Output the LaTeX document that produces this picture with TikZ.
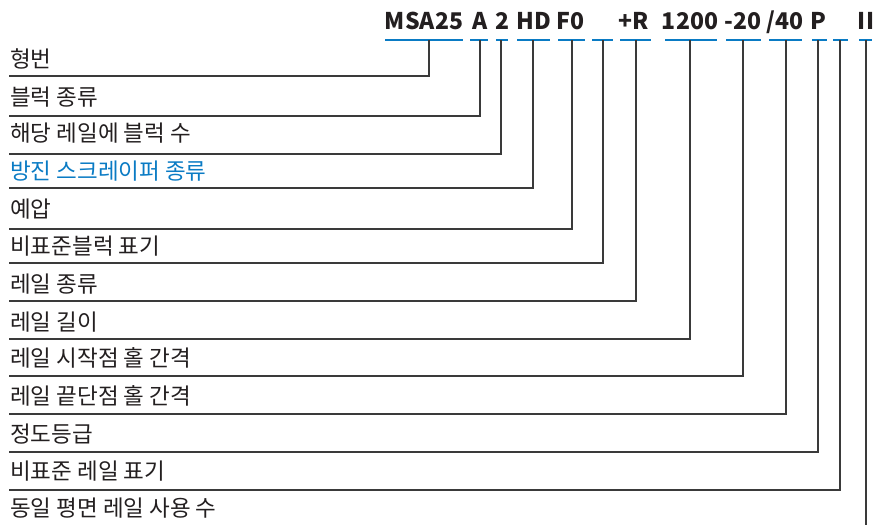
\documentclass[tikz,border=0pt]{standalone}
\usepackage{fontspec}
\setmainfont{Noto Sans CJK KR}
\definecolor{txt}{HTML}{231F20}
\definecolor{ln}{HTML}{3A3A3A}
\definecolor{blu}{HTML}{0A7BC4}
\begin{document}
\begin{tikzpicture}[x=1pt,y=-1pt,
  lbl/.style={anchor=base west,inner sep=0pt,text=txt,font=\fontsize{22.5}{22.5}\selectfont},
  code/.style={anchor=base,inner sep=0pt,text=txt,font=\fontsize{23}{23}\selectfont\bfseries},
  uline/.style={draw=blu,line width=2.8pt},
  lead/.style={draw=ln,line width=1.2pt}]
\useasboundingbox (0,0) rectangle (877,525);
% code texts
\foreach \n/\t/\x in {c1/MSA25/424,c2/A/480.5,c3/2/502,c4/HD/533.5,c5/F0/570.5,c7/+R/634,c8/1200/690,c9/-20/743,c10/{/40}/785,c11/P/818.5,c13/II/866}
  \node[code] (\n) at (\x,29.5) {\t};
% underline segments and leader start points
\foreach \i/\a/\b/\v in {1/385/463/429,2/470/488/480,3/496/508/501,4/517/550/533,5/558/585/572,6/592/613/603,7/620/651/636,8/665/717/690,9/726/761/743,10/769/802/786,11/812/827/818,12/833/848/840,13/859/872/866}{
  \coordinate (sa\i) at (\a,40);
  \coordinate (sb\i) at (\b,40);
  \coordinate (u\i) at (\v,40);
  \draw[uline] (sa\i) -- (sb\i);
}
% labels
\foreach \i/\t/\y in {1/형번/59,2/블럭 종류/97,3/해당 레일에 블럭 수/133,5/예압/209,6/비표준블럭 표기/246,7/레일 종류/284,8/레일 길이/322,9/레일 시작점 홀 간격/358,10/레일 끝단점 홀 간격/396,11/정도등급/434,12/비표준 레일 표기/471,13/동일 평면 레일 사용 수/508}
  \node[lbl] (l\i) at (10,\y+8) {\t};
\node[lbl,text=blu] (l4) at (10,171+8) {방진 스크레이퍼 종류};
% leader rows
\foreach \i/\y in {1/76,2/116,3/154,4/188,5/229,6/263,7/301,8/339,9/376,10/414,11/452,12/490}{
  \coordinate (r\i) at (9,\y);
  \draw[lead] (u\i) |- (r\i);
}
\coordinate (r13) at (866,525);
\draw[lead] (u13) -- (r13);
\end{tikzpicture}
\end{document}
